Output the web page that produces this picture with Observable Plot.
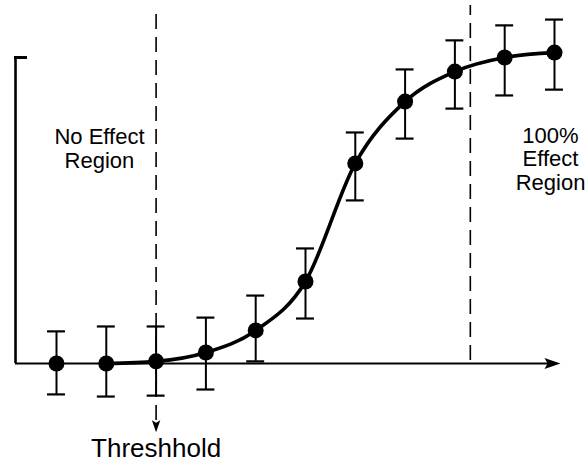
<!DOCTYPE html>
<html>
<head>
<meta charset="utf-8">
<script src="https://cdn.jsdelivr.net/npm/d3@7"></script>
<script src="https://cdn.jsdelivr.net/npm/@observablehq/plot@0.6"></script>
<style>
  html, body { margin: 0; padding: 0; background: #fff; }
  #chart svg { display: block; }
</style>
</head>
<body>
<div id="chart"></div>
<script>
// ---- data ----
const dose     = [1, 2, 3, 4, 5, 6, 7, 8, 9, 10, 11];
const response = [0, 0, 0.7, 3.6, 10.8, 26.8, 65.4, 85.6, 95.4, 100, 101.6];
const errHigh  = [10.5, 12.1, 12.1, 15.0, 22.2, 37.6, 75.5, 96.1, 105.6, 110.5, 112.4];
const errLow   = [-10.1, -10.8, -10.5, -8.5, 0.7, 14.7, 53.3, 73.5, 83.3, 87.6, 89.5];
const thresholdDose = 3;
const fullEffectDose = 9.31;
const labelNoEffect = "No Effect\nRegion";
const labelFull = "100%\nEffect\nRegion";
const labelThreshold = "Threshhold";

const data = dose.map((d, i) => ({dose: d, resp: response[i], hi: errHigh[i], lo: errLow[i]}));

// ---- layout constants ----
const xDomain = [-0.1245, 11.683];
const yDomain = [-33.66, 118.63];
const axisX0 = 0.177;       // where the vertical axis sits
const axisXEnd = 11.12;     // tip of the horizontal arrow
const axisTop = 100;
const topTickEnd = 0.418;
const cap = 0.18;
const font = "'Liberation Sans', Arial, Helvetica, sans-serif";

// filled, slightly notched arrowhead; tip at the origin, body along +y
const arrowHead = {
  draw(ctx, size) {
    const r = Math.sqrt(size / Math.PI);
    const L = 2 * r, W = 0.7 * r;
    ctx.moveTo(0, 0);
    ctx.lineTo(W, L);
    ctx.lineTo(0, L * 0.8);
    ctx.lineTo(-W, L);
    ctx.closePath();
  }
};

const chart = Plot.plot({
  width: 588,
  height: 466,
  margin: 0,
  style: {fontFamily: font, background: "#fff", color: "#000"},
  x: {domain: xDomain, axis: null},
  y: {domain: yDomain, axis: null},
  marks: [
    // dashed region boundaries
    Plot.ruleX([thresholdDose], {y1: -18.6, y2: 116.3, stroke: "#000", strokeWidth: 1.6, strokeDasharray: "15,8"}),
    Plot.dot([thresholdDose], {x: d => d, y: -22.5, symbol: arrowHead, r: 6, rotate: 180, fill: "#000", stroke: "none"}),
    Plot.ruleX([fullEffectDose], {y1: 1, y2: 117, stroke: "#000", strokeWidth: 1.6, strokeDasharray: "15,8"}),
    // axes
    Plot.ruleX([axisX0], {y1: 0, y2: axisTop, stroke: "#000", strokeWidth: 2.6}),
    Plot.ruleY([axisTop], {x1: axisX0 - 0.02, x2: topTickEnd, stroke: "#000", strokeWidth: 3}),
    Plot.ruleY([0], {x1: axisX0, x2: axisXEnd - 0.2, stroke: "#000", strokeWidth: 2.2}),
    Plot.dot([axisXEnd], {x: d => d, y: 0, symbol: arrowHead, r: 8, rotate: 90, fill: "#000", stroke: "none"}),
    // error bars
    Plot.ruleX(data, {x: "dose", y1: "lo", y2: "hi", stroke: "#000", strokeWidth: 2}),
    Plot.ruleY(data, {y: "hi", x1: d => d.dose - cap, x2: d => d.dose + cap, stroke: "#000", strokeWidth: 2.2}),
    Plot.ruleY(data, {y: "lo", x1: d => d.dose - cap, x2: d => d.dose + cap, stroke: "#000", strokeWidth: 2.2}),
    // fitted curve
    Plot.line(data.slice(1), {x: "dose", y: "resp", curve: "monotone-x", stroke: "#000", strokeWidth: 3.6}),
    // points
    Plot.dot(data, {x: "dose", y: "resp", r: 8, fill: "#000", stroke: "none"}),
    // annotations
    Plot.text([labelNoEffect], {x: 1.863, y: 64.05, text: d => d, fontSize: 22, lineHeight: 1.09, lineAnchor: "bottom", textAnchor: "middle", fill: "#000"}),
    Plot.text([labelFull], {x: 10.92, y: 56.86, text: d => d, fontSize: 22, lineHeight: 1.06, lineAnchor: "bottom", textAnchor: "middle", fill: "#000"}),
    Plot.text([labelThreshold], {x: thresholdDose, y: -30.7, text: d => d, fontSize: 26, lineAnchor: "bottom", textAnchor: "middle", fill: "#000"})
  ]
});
document.getElementById("chart").appendChild(chart);
</script>
</body>
</html>
